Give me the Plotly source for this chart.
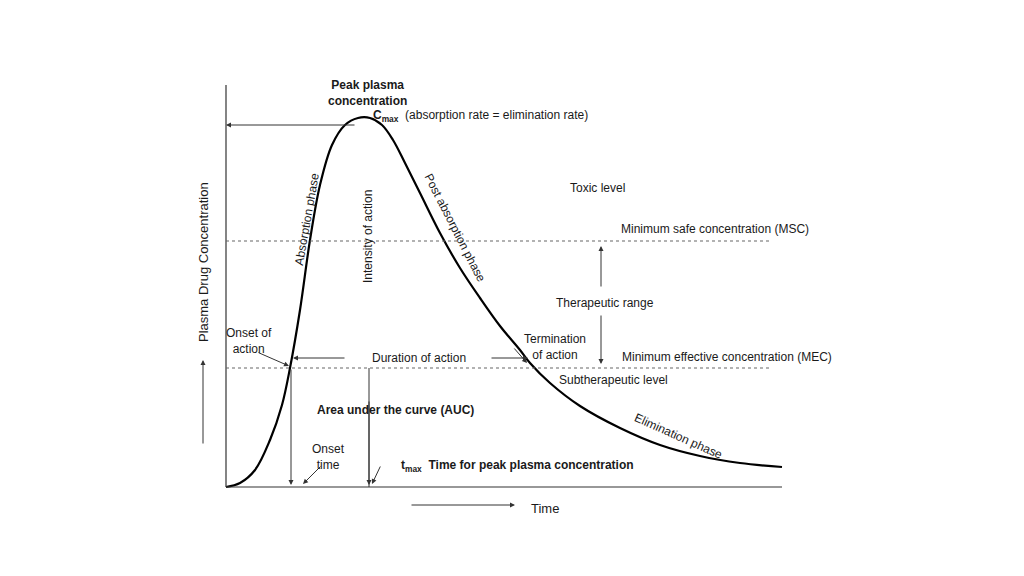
import plotly.graph_objects as go

# Concentration-time curve (pixel-like units, y grows downward)
curve_x = [226, 240, 255, 270, 282, 290, 300, 310, 320, 332, 345, 358, 370, 382, 393, 405,
           420, 440, 460, 480, 500, 520, 530, 550, 580, 620, 660, 700, 740, 782]
curve_y = [487, 483, 470, 440, 405, 368, 310, 240, 185, 145, 125, 118, 118, 125, 140, 163,
           193, 233, 268, 298, 326, 350, 363, 383, 406, 428, 445, 456, 463, 467]

msc_level = 241
mec_level = 368
origin_x, origin_y = 226, 487
x_end, y_top = 782, 85
cmax_x, cmax_y = 356, 125
tmax_x = 369
onset_x = 291
termination_x = 530

FONT = "Liberation Sans, Arial, sans-serif"

fig = go.Figure()
fig.add_trace(go.Scatter(x=curve_x, y=curve_y, mode="lines", line=dict(color="black", width=2.2,
                                                                        shape="spline"),
                         hoverinfo="skip"))
# axes
fig.add_trace(go.Scatter(x=[origin_x, origin_x, None, origin_x, x_end],
                         y=[y_top, origin_y, None, origin_y, origin_y],
                         mode="lines", line=dict(color="#333", width=1.2), hoverinfo="skip"))
# dotted levels
for lvl in [msc_level, mec_level]:
    fig.add_trace(go.Scatter(x=[origin_x, 770], y=[lvl, lvl], mode="lines",
                             line=dict(color="#666", width=1.2, dash="dot"), hoverinfo="skip"))
# vertical line for tmax
fig.add_trace(go.Scatter(x=[tmax_x, tmax_x], y=[mec_level, origin_y], mode="lines",
                         line=dict(color="#333", width=1), hoverinfo="skip"))

def arrow(x0, y0, x1, y1, head=2):
    fig.add_annotation(x=x1, y=y1, ax=x0, ay=y0, xref="x", yref="y", axref="x", ayref="y",
                       text="", showarrow=True, arrowhead=head, arrowsize=1, arrowwidth=1,
                       arrowcolor="#333")

arrow(cmax_x, cmax_y, origin_x, cmax_y)
arrow(onset_x, mec_level, onset_x, origin_y - 2)
arrow(tmax_x, 400, tmax_x, origin_y - 2)
arrow(346, 358, onset_x + 2, 358)
arrow(490, 358, termination_x - 2, 358)
arrow(601, 288, 601, 246)
arrow(601, 314, 601, 364)
arrow(203, 445, 203, 360)
arrow(410, 505, 515, 505)
arrow(257, 352, 289, 366)
arrow(322, 465, 303, 484)
arrow(513, 347, 527, 363)
arrow(381, 465, 372, 484)

def label(x, y, t, size=12, angle=0, bold=False, align="center"):
    if bold:
        t = "<b>" + t + "</b>"
    fig.add_annotation(x=x, y=y, xref="x", yref="y", text=t, showarrow=False, textangle=angle,
                       font=dict(family=FONT, size=size, color="#1a1a1a"), align=align)

label(367, 93, "Peak plasma<br>concentration", bold=True)
label(480, 116, "<b>C<sub>max</sub></b>  (absorption rate = elimination rate)")
label(597, 188, "Toxic level")
label(715, 229, "Minimum safe concentration (MSC)")
label(605, 303, "Therapeutic range")
label(727, 357, "Minimum effective concentration (MEC)")
label(613, 380, "Subtherapeutic level")
label(249, 341, "Onset of<br>action")
label(419, 358, "Duration of action")
label(555, 347, "Termination<br>of action")
label(395, 410, "Area under the curve (AUC)", bold=True)
label(328, 457, "Onset<br>time")
label(517, 466, "<b>t<sub>max</sub>  Time for peak plasma concentration</b>")
label(545, 508, "Time", size=13)
label(203, 262, "Plasma Drug Concentration", size=13, angle=-90)
label(307, 219, "Absorption phase", angle=-80)
label(368, 237, "Intensity of action", angle=-90)
label(455, 228, "Post absorption phase", angle=63)
label(678, 436, "Elimination phase", angle=24)

# page body adds an 8px offset, so shift the ranges to compensate
fig.update_layout(width=1024, height=576, margin=dict(l=0, r=0, t=0, b=0),
                  plot_bgcolor="white", paper_bgcolor="white", showlegend=False,
                  xaxis=dict(range=[8, 1032], visible=False, fixedrange=True),
                  yaxis=dict(range=[584, 8], visible=False, fixedrange=True))
fig.write_html("out.html")
